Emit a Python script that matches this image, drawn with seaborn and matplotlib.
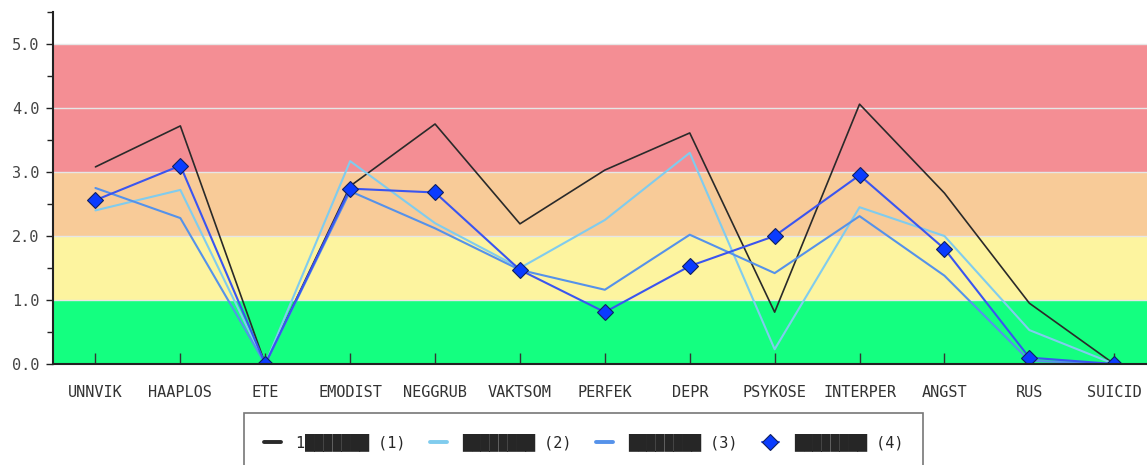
import matplotlib
matplotlib.use("Agg")
import matplotlib.pyplot as plt
import seaborn as sns
import pandas as pd
from matplotlib.ticker import MultipleLocator

categories = ["UNNVIK", "HAAPLOS", "ETE", "EMODIST", "NEGGRUB", "VAKTSOM", "PERFEK",
              "DEPR", "PSYKOSE", "INTERPER", "ANGST", "RUS", "SUICID"]
series1 = [3.08, 3.72, 0.0, 2.78, 3.75, 2.19, 3.03, 3.61, 0.81, 4.06, 2.67, 0.95, 0.0]
series2 = [2.40, 2.72, 0.0, 3.17, 2.20, 1.50, 2.25, 3.30, 0.23, 2.45, 2.00, 0.53, 0.0]
series3 = [2.75, 2.28, 0.0, 2.70, 2.12, 1.47, 1.16, 2.02, 1.42, 2.31, 1.38, 0.05, 0.0]
series4 = [2.56, 3.10, 0.0, 2.74, 2.68, 1.47, 0.81, 1.53, 2.00, 2.95, 1.80, 0.10, 0.0]
blk = "\u2588"
labels = ["1" + blk * 7 + " (1)", blk * 8 + " (2)", blk * 8 + " (3)", blk * 8 + " (4)"]

# risk bands (lower, upper, colour)
bands = [(0, 1, "#14ff80"), (1, 2, "#fdf49f"), (2, 3, "#f8cb98"), (3, 5, "#f48e94")]

sns.set_style("white")
plt.rcParams["font.family"] = ["DejaVu Sans Mono"]

fig = plt.figure(figsize=(11.47, 4.65), dpi=100)
ax = fig.add_axes([53 / 1147, 1 - 364 / 465, 1 - 53 / 1147, 352 / 465])

for lo, hi, col in bands:
    ax.axhspan(lo, hi, color=col, zorder=0, lw=0)
for y in [1, 2, 3, 4, 5]:
    ax.axhline(y, color="#e6e6e6", lw=1, zorder=0.5)

df = pd.DataFrame({"cat": categories, "s1": series1, "s2": series2, "s3": series3, "s4": series4})
sns.lineplot(data=df, x="cat", y="s1", sort=False, color="#2a2a2a", lw=1.2, ax=ax, label=labels[0])
sns.lineplot(data=df, x="cat", y="s2", sort=False, color="#80ccee", lw=1.5, ax=ax, label=labels[1])
sns.lineplot(data=df, x="cat", y="s3", sort=False, color="#5592ea", lw=1.5, ax=ax, label=labels[2])
sns.lineplot(data=df, x="cat", y="s4", sort=False, color="#3a55f0", lw=1.5, ax=ax, label=labels[3],
             marker="D", markersize=8, markerfacecolor="#0a3cff", markeredgecolor="#102060",
             markeredgewidth=0.8)

ax.set_xlim(-0.5, (1147 - 53) / 84.9 - 0.5)
ax.set_ylim(0, 5.5)
ax.set_yticks([0, 1, 2, 3, 4, 5])
ax.set_yticklabels(["0.0", "1.0", "2.0", "3.0", "4.0", "5.0"])
ax.yaxis.set_minor_locator(MultipleLocator(0.5))
ax.set_xlabel("")
ax.set_ylabel("")

ax.tick_params(axis="y", which="major", direction="out", length=5, width=1, color="#222222",
               labelsize=11, labelcolor="#444444", pad=5, left=True)
ax.tick_params(axis="y", which="minor", direction="out", length=4, width=1, color="#222222", left=True)
ax.tick_params(axis="x", direction="in", length=8, width=1, color="#333333",
               labelsize=11, labelcolor="#333333", pad=15, bottom=True)

for s in ["top", "right"]:
    ax.spines[s].set_visible(False)
for s in ["left", "bottom"]:
    ax.spines[s].set_color("#222222")
    ax.spines[s].set_linewidth(1.5)

leg = ax.legend(loc="upper left", bbox_to_anchor=(244 / 1147, 1 - 413 / 465),
                bbox_transform=fig.transFigure, borderaxespad=0, ncol=4, frameon=True,
                fancybox=False, fontsize=11, handlelength=1.1, columnspacing=1.6,
                borderpad=1.3, handletextpad=1.0)
leg.get_frame().set_edgecolor("#555555")
leg.get_frame().set_linewidth(1.2)
for ln in leg.get_lines()[:3]:
    ln.set_linewidth(2.8)

fig.savefig("out.png", dpi=100)
